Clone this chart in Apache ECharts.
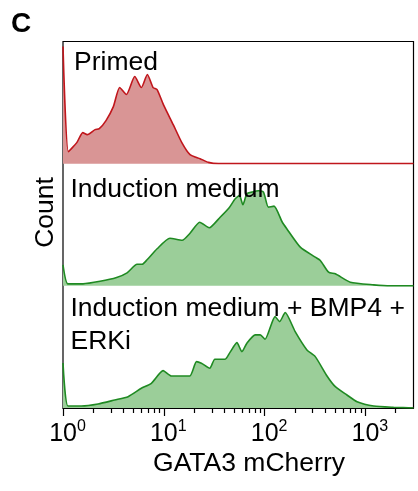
<!DOCTYPE html>
<html>
<head>
<meta charset="utf-8">
<script src="https://cdn.jsdelivr.net/npm/echarts@6/dist/echarts.min.js"></script>
<style>
  html, body { margin: 0; padding: 0; background: #fff; }
  #chart { width: 418px; height: 491px; }
</style>
</head>
<body>
<div id="chart"></div>
<script>
// GATA3 mCherry intensity (bin positions) and cell counts per condition
const primedX = [1.00, 1.13, 1.37, 1.57, 1.74, 2.08, 2.29, 2.67, 3.16, 3.65, 4.25, 5.15, 5.99, 6.87, 7.83, 8.58, 9.91, 12.4, 15.1, 18.2, 22.9, 27.7, 34.8, 3000];
const primedY = [117, 12, 21, 31, 29, 34, 35, 43, 57, 76, 69, 87, 76, 89, 76, 74, 59, 39, 21, 9, 5, 1.3, 0, 0];

const inductionX = [1.00, 1.12, 1.58, 2.33, 3.40, 4.32, 5.43, 6.09, 6.82, 8.58, 11.5, 15.2, 18.2, 22.7, 28.2, 36.2, 44.5, 51.1, 56.3, 60.9, 66.7, 74.8, 86.9, 97.5, 109, 124, 149, 166, 226, 318, 357, 431, 503, 708, 1210, 1770, 3000];
const inductionY = [21, 2, 2, 4.5, 8.3, 13, 21.5, 21.5, 26, 37, 47.5, 45.5, 52.5, 63.5, 58, 68.5, 78, 87, 90.3, 81, 92, 93.6, 95, 93.6, 78.6, 79.6, 64, 57, 38.6, 28.6, 25.3, 13.6, 12, 3.6, 1, 0, 0];

const bmpErkX = [1.00, 1.12, 1.52, 2.23, 3.26, 4.42, 5.99, 7.53, 9.84, 11.9, 18.1, 21.1, 23.6, 28.6, 32.1, 40.6, 45.2, 53.1, 59.5, 66.7, 80.7, 90.4, 101, 127, 141, 160, 201, 263, 318, 416, 503, 656, 826, 1210, 1905, 3000];
const bmpErkY = [45, 2, 2, 4, 8, 11.3, 19.7, 24.7, 37.3, 32, 32, 46.3, 44.7, 39.7, 48.7, 48.7, 55.3, 65.3, 56.3, 64.7, 73, 73, 68.7, 91.3, 86.3, 95.3, 76.3, 58, 51.3, 32, 21.3, 13, 6.3, 2, 0.7, 0];

// Axis ticks
const majorTicks = [1, 10, 100, 1000];
const minorTicks = [2, 3, 4, 5, 6, 7, 8, 9, 20, 30, 40, 50, 60, 70, 80, 90, 200, 300, 400, 500, 600, 700, 800, 900, 2000];

const panelLabels = ['Primed', 'Induction medium', 'Induction medium + BMP4 +', 'ERKi'];

const FONT = "'Liberation Sans', Arial, Helvetica, sans-serif";
const X_MIN = 1, X_MAX = 3000, Y_MAX = 122;

const plotLeft = 63, plotRight = 4.5, plotTop = 41.5, plotBottom = 408;
const panelH = (plotBottom - plotTop) / 3;

const RED_LINE = '#c0161c', RED_FILL = '#d99595';
const GREEN_LINE = '#1f8a22', GREEN_FILL = '#9bce99';

function pairs(xs, ys) { return xs.map((x, i) => [x, ys[i]]); }

const grids = [0, 1, 2].map(i => ({
  left: plotLeft, right: plotRight,
  top: plotTop + i * panelH, height: panelH
}));
// frame around the stacked panels
grids.push({
  left: plotLeft, right: plotRight, top: plotTop, height: plotBottom - plotTop,
  show: true, borderColor: '#000', borderWidth: 1.2, backgroundColor: 'transparent', z: 0
});

const hiddenLog = gi => ({ type: 'log', gridIndex: gi, min: X_MIN, max: X_MAX, show: false });
const tickLine = { color: '#000', width: 1.2 };

const xAxes = [
  hiddenLog(0),
  hiddenLog(1),
  {
    type: 'log', gridIndex: 2, min: X_MIN, max: X_MAX, position: 'bottom',
    axisLine: { show: true, lineStyle: tickLine },
    axisTick: { show: true, customValues: majorTicks, length: 8, lineStyle: tickLine },
    axisLabel: {
      show: true, customValues: majorTicks, margin: 11, padding: [0, 0, 0, 9],
      formatter: v => '{b|10}{s|' + Math.round(Math.log10(v)) + '}',
      rich: {
        b: { fontSize: 25, fontFamily: FONT, color: '#000', lineHeight: 30 },
        s: { fontSize: 16, fontFamily: FONT, color: '#000', lineHeight: 30, verticalAlign: 'top' }
      }
    },
    splitLine: { show: false }
  },
  {
    // minor ticks on the same bottom edge
    type: 'log', gridIndex: 2, min: X_MIN, max: X_MAX, position: 'bottom', offset: 0,
    axisLine: { show: false },
    axisTick: { show: true, customValues: minorTicks, length: 5, lineStyle: tickLine },
    axisLabel: { show: false },
    splitLine: { show: false }
  },
  { type: 'value', gridIndex: 3, show: false }
];

const yAxes = [0, 1, 2].map(gi => ({ type: 'value', gridIndex: gi, min: 0, max: Y_MAX, show: false }));
yAxes.push({ type: 'value', gridIndex: 3, show: false });

function histSeries(xs, ys, gi, line, fill) {
  return {
    type: 'line', xAxisIndex: gi, yAxisIndex: gi,
    data: pairs(xs, ys), showSymbol: false, smooth: 0.2,
    lineStyle: { color: line, width: 1.6 },
    areaStyle: { color: fill, opacity: 1 },
    z: 3
  };
}

function textEl(x, y, text, extra) {
  return {
    type: 'text', x, y, z: 10,
    style: Object.assign({
      text, fill: '#000', font: '26.5px ' + FONT,
      align: 'left', verticalAlign: 'middle',
      textAlign: 'left', textVerticalAlign: 'middle'
    }, extra || {})
  };
}
const centered = { align: 'center', textAlign: 'center' };

const chart = echarts.init(document.getElementById('chart'), null, { renderer: 'canvas' });
chart.setOption({
  animation: false,
  backgroundColor: '#fff',
  grid: grids,
  xAxis: xAxes,
  yAxis: yAxes,
  series: [
    histSeries(primedX, primedY, 0, RED_LINE, RED_FILL),
    histSeries(inductionX, inductionY, 1, GREEN_LINE, GREEN_FILL),
    histSeries(bmpErkX, bmpErkY, 2, GREEN_LINE, GREEN_FILL)
  ],
  graphic: [
    textEl(11, 24, 'C', { font: 'bold 28px ' + FONT }),
    textEl(74, 62.5, panelLabels[0]),
    textEl(70.5, 190, panelLabels[1]),
    textEl(70.5, 309, panelLabels[2]),
    textEl(70.5, 342, panelLabels[3]),
    Object.assign(textEl(46, 212.5, 'Count', centered), { rotation: Math.PI / 2 }),
    textEl(249, 464, 'GATA3 mCherry', centered)
  ]
});
</script>
</body>
</html>
